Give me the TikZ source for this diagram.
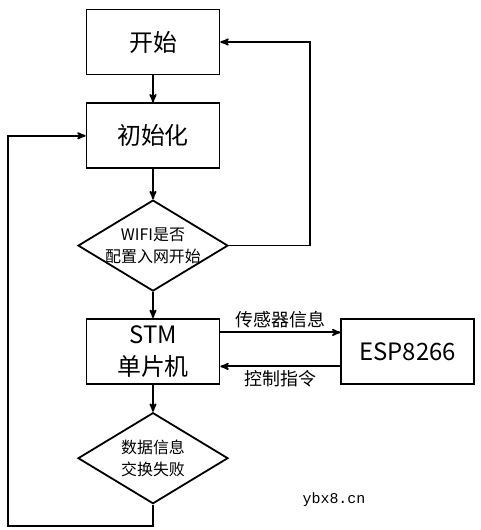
\documentclass[tikz,border=0pt]{standalone}
\usepackage{fontspec}
\setmainfont{Noto Sans CJK SC}
\newfontfamily\markfont{Liberation Mono}
\usetikzlibrary{arrows,positioning,shapes.geometric}

\begin{document}
\begin{tikzpicture}[>=stealth', line width=1.8bp,
	box/.style={draw,rectangle,minimum width=133bp,minimum height=65bp,align=center,font=\fontsize{24}{32}\selectfont},
	decision/.style={draw,diamond,minimum width=150bp,minimum height=91bp,inner sep=0pt},
	dtext/.style={align=center,font=\fontsize{16}{22}\selectfont},
	msg/.style={font=\fontsize{18}{20}\selectfont}]
	\useasboundingbox (0,0) rectangle (481bp,530bp);
	\node[box] (start) at (153bp,488bp) {开始};
	\node[box] (init) [below=27bp of start] {初始化};
	\node[decision,label={[dtext]center:WIFI是否\\配置入网开始}] (wifi) [below=30bp of init] {};
	\node[box] (stm) [below=26bp of wifi] {STM\\单片机};
	\node[box] (esp) [right=120bp of stm] {ESP8266};
	\node[decision,label={[dtext]center:数据信息\\交换失败}] (fail) [below=27bp of stm] {};
	\node[font=\markfont\fontsize{15}{16}\selectfont] (mark) at (334bp,30bp) {ybx8.cn};
	\coordinate (corner) at (8bp,4bp);

	\path[->]
	(start) edge (init)
	(init) edge (wifi)
	(wifi) edge (stm)
	(stm) edge (fail)
	([yshift=19bp]stm.east) edge node [msg,above] {传感器信息} ([yshift=19bp]esp.west)
	([yshift=-15bp]esp.west) edge node [msg,below] {控制指令} ([yshift=-15bp]stm.east)
	;
	\draw[->] (wifi.east) -- ++(81bp,0) |- (start.east);
	\draw[->] (fail.south) |- (corner) |- (init.west);
\end{tikzpicture}
\end{document}
